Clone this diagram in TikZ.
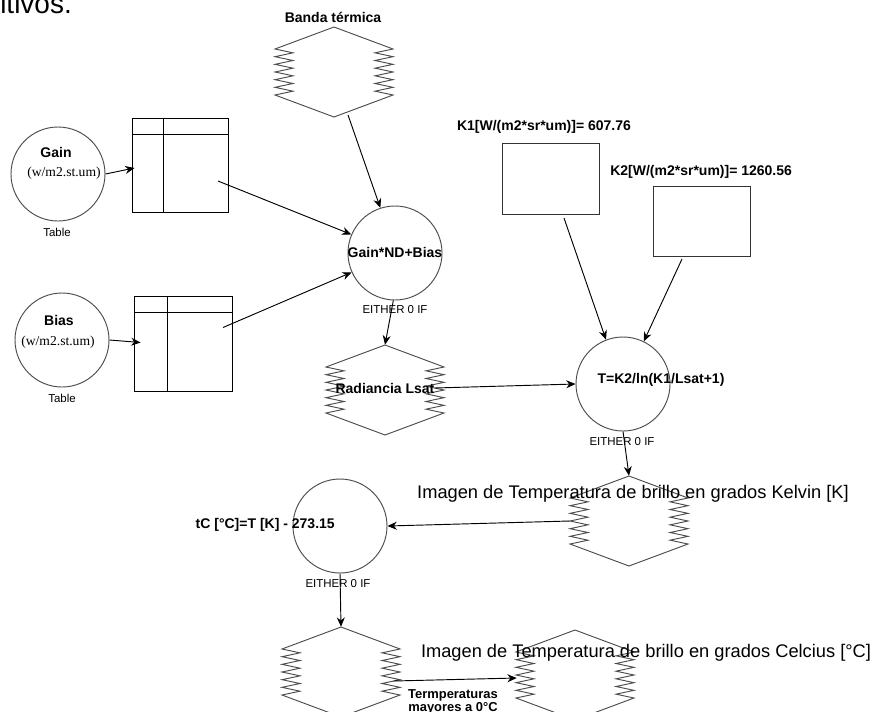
\documentclass[tikz,border=0pt]{standalone}
\usepackage{fontspec}
\setmainfont{Liberation Sans}
\newfontfamily\tnr{Liberation Serif}
\usetikzlibrary{arrows.meta,calc}
\tikzset{
 ln/.style={line width=0.7pt},
 arr/.style={line width=0.7pt, -{Stealth[length=7pt,width=6pt]}},
 circ/.style={circle, draw=black!70, line width=0.7pt, minimum size=70.5pt, inner sep=0pt},
 hexn/.style={rectangle, minimum width=88.5pt, minimum height=67.5pt, inner sep=0pt},
 tabbox/.style={draw, line width=0.7pt, inner sep=0pt},
 bl/.style={font=\fontsize{10.5}{12}\selectfont\bfseries, inner sep=0pt},
 sm/.style={font=\fontsize{8.6}{10}\selectfont, inner sep=0pt},
 big/.style={font=\fontsize{13.7}{15}\selectfont, inner sep=0pt},
 ser/.style={font=\fontsize{10.2}{12}\selectfont\tnr, inner sep=0pt},
 hexline/.style={draw=black!70, line width=0.7pt},
 zhex/.pic={
  \draw[hexline] (0,-45) -- (-59,-23)
   \foreach \i in {1,...,12}{ -- ({-59+18*mod(\i,2)},{-23+\i*46/12}) }
   -- (0,45) -- (59,23)
   \foreach \i in {1,...,12}{ -- ({59-18*mod(\i,2)},{23-\i*46/12}) }
   -- cycle;
 }
}
\begin{document}
\begin{tikzpicture}[x=0.75pt,y=-0.75pt]
\useasboundingbox (0,0) rectangle (874,711);
\clip (0,0) rectangle (874,711);
\fill[white] (0,0) rectangle (874,711);

% cut-off heading text
\node[anchor=base west, font=\fontsize{21}{24}\selectfont, inner sep=0pt] (itv) at (0,13) {itivos.};

% Banda termica
\node[bl] (bandatxt) at (333,17) {Banda térmica};
\node[hexn] (banda) at (334,72) {};
\pic at (banda) {zhex};

% Gain
\node[circ] (gain) at (58,174) {};
\node[bl] (gaintxt) at (56,152) {Gain};
\node[ser] (gainu) at (64,173) {(w/m2.st.um)};
\node[sm] (gaintab) at (57,232) {Table};
\node[tabbox, minimum width=72pt, minimum height=70.5pt] (gtab) at (180,165) {};
\draw[ln] (132,134) -- (228,134);
\draw[ln] (163,118) -- (163,212);

% Bias
\node[circ] (bias) at (62,340) {};
\node[bl] (biastxt) at (59,320) {Bias};
\node[ser] (biasu) at (58,342) {(w/m2.st.um)};
\node[sm] (biastab) at (62,398) {Table};
\node[tabbox, minimum width=73.5pt, minimum height=71.25pt] (btab) at (183,343.5) {};
\draw[ln] (134,312) -- (232,312);
\draw[ln] (167,296) -- (167,391);

% Gain*ND+Bias
\node[circ] (gnd) at (395,253) {};
\node[bl] (gndtxt) at (395,252) {Gain*ND+Bias};
\node[sm] (gndeo) at (395,310) {EITHER 0 IF};

% Radiancia
\node[hexn] (rad) at (385,390) {};
\pic at (rad) {zhex};
\node[bl] (radtxt) at (385,388) {Radiancia Lsat};

% K1, K2
\node[bl] (k1txt) at (544,127) {K1[W/(m2*sr*um)]= 607.76};
\node[tabbox, draw=black!80, minimum width=72.75pt, minimum height=53.25pt] (k1) at (550.5,178.5) {};
\node[bl, anchor=west] (k2txt) at (610,172) {K2[W/(m2*sr*um)]= 1260.56};
\node[tabbox, draw=black!80, minimum width=72.75pt, minimum height=52.5pt] (k2) at (701.5,221) {};

% T
\node[circ] (T) at (623,384) {};
\node[bl] (Ttxt) at (661,380) {T=K2/ln(K1/Lsat+1)};
\node[sm] (Teo) at (622,442) {EITHER 0 IF};

% Kelvin image
\node[hexn] (kel) at (629,521) {};
\pic at (kel) {zhex};
\node[big] (keltxt) at (633,494) {Imagen de Temperatura de brillo en grados Kelvin [K]};

% tC
\node[circ] (tcc) at (340,526) {};
\node[bl, anchor=east] (tctxt) at (335,525) {tC [°C]=T [K] - 273.15};
\node[sm] (tceo) at (338,584) {EITHER 0 IF};

% bottom hexagons
\node[hexn] (hbl) at (341,672) {};
\pic at (hbl) {zhex};
\node[hexn] (hbr) at (575,675) {};
\pic at (hbr) {zhex};
\node[big] (celtxt) at (646,653) {Imagen de Temperatura de brillo en grados Celcius [°C]};
\node[font=\fontsize{9.7}{11}\selectfont\bfseries, inner sep=0pt, align=center] (mayt) at (453,702)
 {Termperaturas\\[-1pt]mayores a 0°C};

% connectors
\draw[arr] (gain.east) -- ([shift={(3,3)}]gtab.west);
\draw[arr] (bias.east) -- ([shift={(7,-1)}]btab.west);
\draw[arr] ([shift={(38,16)}]gtab.center) -- (gnd.157);
\draw[arr] ([shift={(40,-16)}]btab.center) -- (gnd.204);
\draw[arr] ([shift={(14,43)}]banda.center) -- (gnd.108);
\draw[arr] (gnd.268) -- (rad.north);
\draw[arr] (radtxt.east) -- (T.west);
\draw[arr] ([shift={(13.5,39.5)}]k1.center) -- (T.111);
\draw[arr] ([shift={(-19.5,38)}]k2.center) -- (T.64);
\draw[arr] (T.south) -- (kel.north);
\draw[arr] (kel.west) -- (tcc.east);
\draw[arr] (tcc.south) -- (hbl.north);
\draw[arr] ([shift={(-7,9)}]hbl.east) -- ([shift={(1,3)}]hbr.west);
\end{tikzpicture}
\end{document}
